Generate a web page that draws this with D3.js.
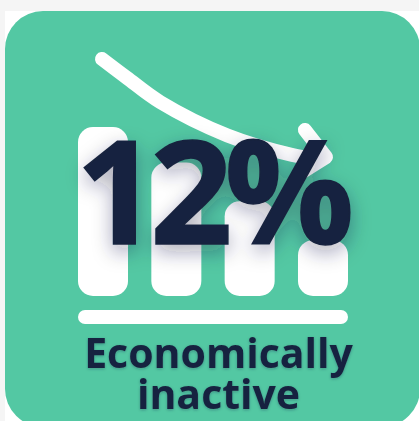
<!DOCTYPE html>
<html>
<head>
<meta charset="utf-8">
<style>
html,body{margin:0;padding:0;background:#fff;overflow:hidden}
svg{display:block}
text{font-family:"Open Sans",sans-serif;fill:#17233f;text-anchor:middle}
</style>
<script src="https://cdn.jsdelivr.net/npm/d3@7"></script>
</head>
<body>
<svg id="chart" width="419" height="421"></svg>
<script>
// Declining bars, with the headline share and its label
const categories = ["A", "B", "C", "D"];
const barValues = [100, 79, 56, 33];
const headline = "12%";
const labelLines = ["Economically", "inactive"];

// Trend arrow sampled in unit coordinates over the card
const trendX = [0.00, 0.11, 0.26, 0.56, 0.85, 0.95];
const trendY = [1.00, 0.81, 0.56, 0.22, 0.02, -0.02];
const headX = [0.906, 1.00, 0.897];
const headY = [0.276, 0.00, -0.15];

const W = 419, H = 421;
const svg = d3.select("#chart");

const defs = svg.append("defs");
const soft = defs.append("filter").attr("id", "soft")
  .attr("x", "-20%").attr("y", "-20%").attr("width", "140%").attr("height", "150%");
soft.append("feDropShadow").attr("dx", 0).attr("dy", 7).attr("stdDeviation", 10)
  .attr("flood-color", "#17233f").attr("flood-opacity", 0.36);
const softSmall = defs.append("filter").attr("id", "softSmall")
  .attr("x", "-10%").attr("y", "-20%").attr("width", "120%").attr("height", "140%");
softSmall.append("feDropShadow").attr("dx", 0).attr("dy", 1).attr("stdDeviation", 1.5)
  .attr("flood-color", "#17233f").attr("flood-opacity", 0.3);

// Page strips and card
svg.append("rect").attr("width", W).attr("height", 11).attr("fill", "#f5f5f5");
svg.append("rect").attr("width", 5).attr("height", H).attr("fill", "#f5f5f5");
svg.append("rect").attr("x", 5).attr("y", 11).attr("width", 415).attr("height", 416)
  .attr("rx", 38).attr("fill", "#53c8a3");

// Bars
const x = d3.scaleBand().domain(categories).range([78, 348]).paddingInner(0.318);
const y = d3.scaleLinear().domain([0, 100]).range([296, 127]);

svg.append("g").selectAll("rect").data(barValues).join("rect")
  .attr("x", (d, i) => x(categories[i]))
  .attr("y", d => y(d))
  .attr("width", x.bandwidth())
  .attr("height", d => y(0) - y(d))
  .attr("rx", 15)
  .attr("fill", "#fff");

// Baseline rule beneath the bars
svg.append("rect")
  .attr("x", x.range()[0]).attr("y", 310)
  .attr("width", x.range()[1] - x.range()[0]).attr("height", 14)
  .attr("rx", 7).attr("fill", "#fff");

// Trend arrow
const ax = d3.scaleLinear().domain([0, 1]).range([102, 326]);
const ay = d3.scaleLinear().domain([0, 1]).range([157, 59]);
const trend = d3.line().x(d => ax(d[0])).y(d => ay(d[1])).curve(d3.curveCatmullRom);
const arrow = svg.append("g").attr("fill", "none").attr("stroke", "#fff")
  .attr("stroke-width", 14).attr("stroke-linecap", "round").attr("stroke-linejoin", "round");
arrow.append("path").attr("d", trend(d3.zip(trendX, trendY)));
arrow.append("path").attr("d", d3.line().x(d => ax(d[0])).y(d => ay(d[1]))(d3.zip(headX, headY)));

// Headline figure, thickened a little with a matching outline
svg.append("text")
  .attr("x", 211).attr("y", 244)
  .attr("font-size", 144).attr("font-weight", 700)
  .attr("letter-spacing", -8)
  .attr("stroke", "#17233f").attr("stroke-width", 1.5)
  .attr("filter", "url(#soft)")
  .text(headline);

// Label, set wide enough to span the rule
svg.append("g").selectAll("text").data(labelLines).join("text")
  .attr("x", 218.5)
  .attr("y", (d, i) => 368 + i * 41)
  .attr("font-size", 41).attr("font-weight", 700)
  .attr("filter", "url(#softSmall)")
  .text(d => d);
</script>
</body>
</html>
